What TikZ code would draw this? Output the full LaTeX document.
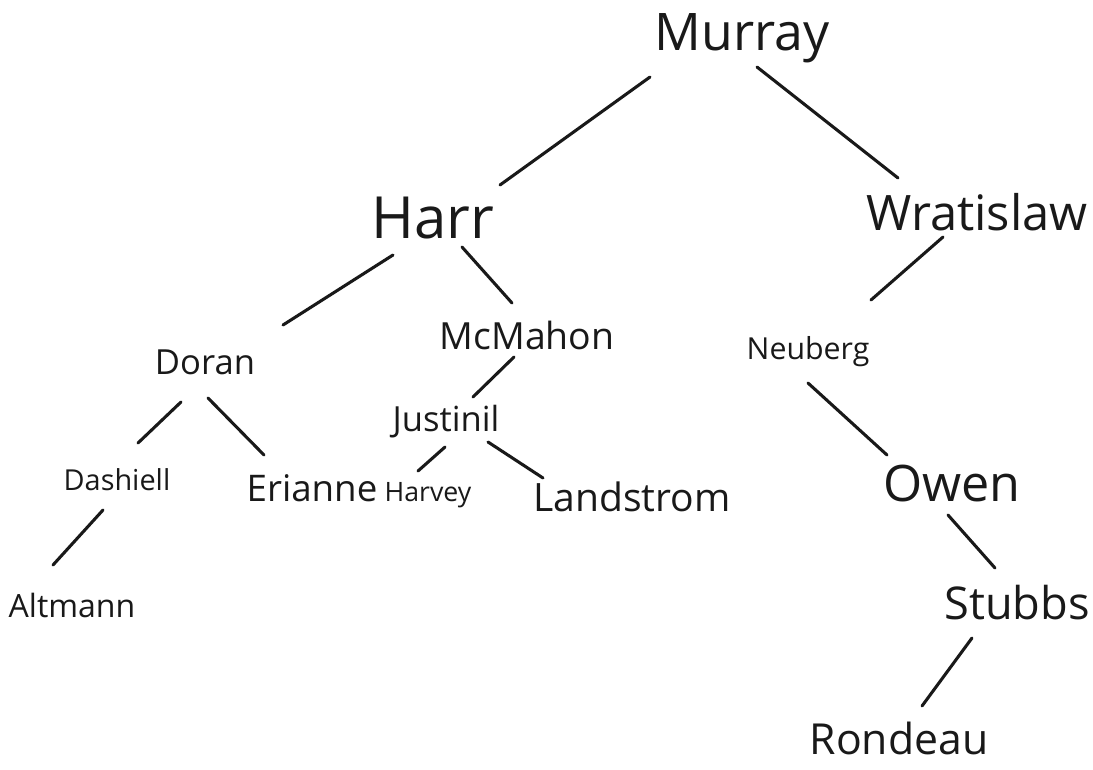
\documentclass[tikz,border=0pt]{standalone}
\usepackage{fontspec}
\setmainfont{Open Sans}
\usetikzlibrary{calc}
\usepackage{graphicx}
% name typeset at a given width
\newcommand\hw[2]{\resizebox{#1pt}{!}{#2}}
\newcommand\link[4]{\draw[edge] ($(#1)+#2$) -- ($(#3)+#4$);}
\begin{document}
\begin{tikzpicture}[x=0.75pt,y=-0.75pt,
  person/.style={inner sep=0pt,text=black!90},
  edge/.style={line width=2.3pt,line cap=round,black!90}]
\useasboundingbox (0,0) rectangle (1093,769);
\node[person] (murray)    at (742,38)  {\hw{131}{Murray}};
\node[person] (harr)      at (433,218) {\hw{92}{Harr}};
\node[person] (wratislaw) at (977,212) {\hw{166}{Wratislaw}};
\node[person] (doran)     at (205,362) {\hw{75}{Doran}};
\node[person] (mcmahon)   at (527,335) {\hw{131}{McMahon}};
\node[person] (neuberg)   at (808,352) {\hw{92}{Neuberg}};
\node[person] (justinil)  at (446,422) {\hw{80}{Justinil}};
\node[person] (dashiell)  at (117,480) {\hw{80}{Dashiell}};
\node[person] (erianne)   at (312,488) {\hw{98}{Erianne}};
\node[person] (harvey)    at (428,495) {\hw{65}{Harvey}};
\node[person] (landstrom) at (632,497) {\hw{148}{Landstrom}};
\node[person] (owen)      at (952,484) {\hw{103}{Owen}};
\node[person] (altmann)   at (72,605)  {\hw{95}{Altmann}};
\node[person] (stubbs)    at (1017,603){\hw{109}{Stubbs}};
\node[person] (rondeau)   at (899,738) {\hw{134}{Rondeau}};

\link{murray}{(-92,39)}{harr}{(67,-33)}
\link{murray}{(15,29)}{wratislaw}{(-79,-34)}
\link{harr}{(-40,37)}{doran}{(78,-37)}
\link{harr}{(29,29)}{mcmahon}{(-15,-32)}
\link{wratislaw}{(-34,25)}{neuberg}{(63,-52)}
\link{doran}{(-24,40)}{dashiell}{(21,-37)}
\link{doran}{(3,36)}{erianne}{(-48,-33)}
\link{mcmahon}{(-13,22)}{justinil}{(27,-25)}
\link{neuberg}{(0,31)}{owen}{(-65,-29)}
\link{justinil}{(-1,25)}{harvey}{(-10,-24)}
\link{justinil}{(42,20)}{landstrom}{(-89,-19)}
\link{dashiell}{(-14,30)}{altmann}{(-19,-40)}
\link{owen}{(-4,31)}{stubbs}{(-22,-35)}
\link{stubbs}{(-45,35)}{rondeau}{(23,-32)}
\end{tikzpicture}
\end{document}
